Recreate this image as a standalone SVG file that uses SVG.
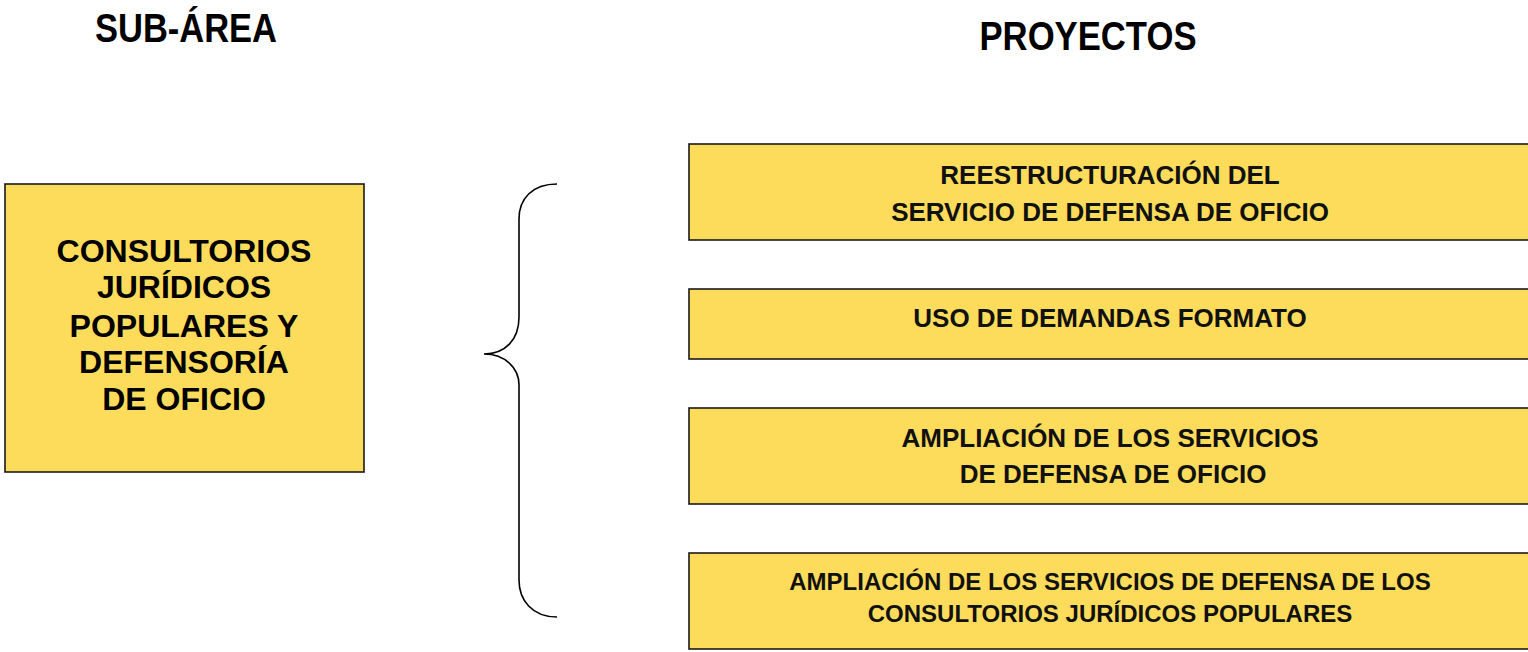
<svg xmlns="http://www.w3.org/2000/svg" width="1528" height="652" viewBox="0 0 1528 652">
<style>
.box{fill:#FDDC5C;stroke:#1a1a1a;stroke-width:1.6}
.title{font-family:"Liberation Sans Narrow","Liberation Sans",Arial,sans-serif;font-weight:bold;font-size:40px;fill:#000;text-anchor:middle}
.lt{font-family:"Liberation Sans",Arial,sans-serif;font-weight:bold;font-size:32px;fill:#000;text-anchor:middle}
.rt{font-family:"Liberation Sans",Arial,sans-serif;font-weight:bold;font-size:26px;fill:#111;text-anchor:middle}
.rs{font-size:24px}
.brace{fill:none;stroke:#000;stroke-width:1.6}
</style>
<rect width="1528" height="652" fill="#fff"/>
<g id="titles">
<text class="title" x="186" y="42" textLength="182" lengthAdjust="spacingAndGlyphs">SUB-ÁREA</text>
<text class="title" x="1088" y="50" textLength="217" lengthAdjust="spacingAndGlyphs">PROYECTOS</text>
</g>
<g id="subarea">
<rect class="box" x="5" y="184" width="359" height="288"/>
<text class="lt" x="184" y="262">CONSULTORIOS</text>
<text class="lt" x="184" y="298">JURÍDICOS</text>
<text class="lt" x="184" y="337">POPULARES Y</text>
<text class="lt" x="184" y="373">DEFENSORÍA</text>
<text class="lt" x="184" y="410">DE OFICIO</text>
</g>
<g id="connectors">
<path class="brace" d="M557,184 C532,184 519,199 519,219 L519,317 C519,340 505,354 484,354 C505,354 519,368 519,385 L519,580 C519,600 532,617 557,617"/>
</g>
<g id="p1">
<rect class="box" x="689" y="144" width="850" height="96"/>
<text class="rt" x="1110" y="184">REESTRUCTURACIÓN DEL</text>
<text class="rt" x="1110" y="221">SERVICIO DE DEFENSA DE OFICIO</text>
</g>
<g id="p2">
<rect class="box" x="689" y="289" width="850" height="70"/>
<text class="rt" x="1110" y="327">USO DE DEMANDAS FORMATO</text>
</g>
<g id="p3">
<rect class="box" x="689" y="408" width="850" height="96"/>
<text class="rt" x="1110" y="447">AMPLIACIÓN DE LOS SERVICIOS</text>
<text class="rt" x="1113" y="483">DE DEFENSA DE OFICIO</text>
</g>
<g id="p4">
<rect class="box" x="689" y="553" width="850" height="96"/>
<text class="rt rs" x="1110" y="590">AMPLIACIÓN DE LOS SERVICIOS DE DEFENSA DE LOS</text>
<text class="rt rs" x="1110" y="622">CONSULTORIOS JURÍDICOS POPULARES</text>
</g>
</svg>
